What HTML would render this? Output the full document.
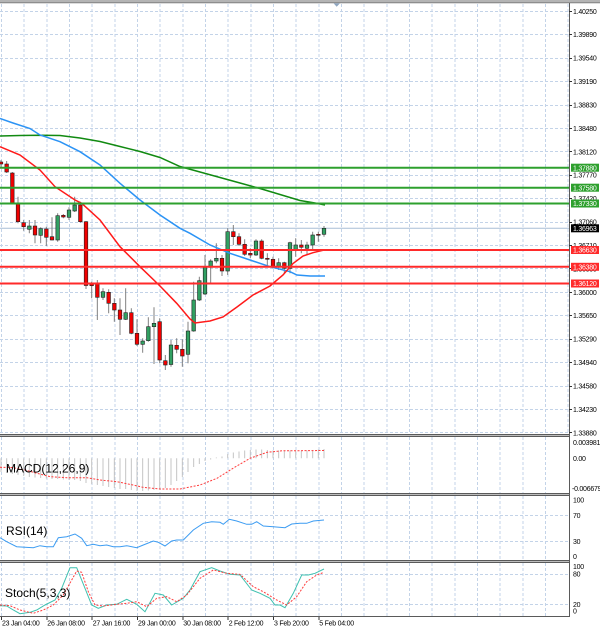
<!DOCTYPE html>
<html><head><meta charset="utf-8"><style>
html,body{margin:0;padding:0;background:#fff;}
svg{display:block;}
.ax{font-family:"Liberation Sans",sans-serif;font-size:7px;letter-spacing:-0.25px;fill:#000;}
.lb{font-family:"Liberation Sans",sans-serif;font-size:7px;letter-spacing:-0.25px;fill:#fff;}
.pl{font-family:"Liberation Sans",sans-serif;font-size:12px;fill:#000;}
</style></head><body>
<svg width="600" height="630" viewBox="0 0 600 630" xmlns="http://www.w3.org/2000/svg">
<rect width="600" height="630" fill="#fff"/>
<!-- top band -->
<rect x="0" y="0" width="600" height="2.6" fill="#b4b4b4"/>
<line x1="0" y1="2.8" x2="600" y2="2.8" stroke="#777" stroke-width="0.8"/>
<polygon points="333.5,3.3 340,3.3 336.7,6.8" fill="#8fa6c0"/>

<!-- vertical grid -->
<g stroke="#c3d3e8" stroke-width="1" stroke-dasharray="3,2" shape-rendering="crispEdges">
<path d="M1.5,4V434 M24.2,4V434 M46.8,4V434 M69.5,4V434 M92.2,4V434 M114.8,4V434 M137.5,4V434 M160.2,4V434 M182.8,4V434 M205.5,4V434 M228.2,4V434 M250.8,4V434 M273.5,4V434 M296.2,4V434 M318.8,4V434 M341.5,4V434 M364.2,4V434 M386.8,4V434 M409.5,4V434 M432.2,4V434 M454.8,4V434 M477.5,4V434 M500.2,4V434 M522.8,4V434 M545.5,4V434 M568.2,4V434"/>
<path d="M1.5,437V493 M24.2,437V493 M46.8,437V493 M69.5,437V493 M92.2,437V493 M114.8,437V493 M137.5,437V493 M160.2,437V493 M182.8,437V493 M205.5,437V493 M228.2,437V493 M250.8,437V493 M273.5,437V493 M296.2,437V493 M318.8,437V493 M341.5,437V493 M364.2,437V493 M386.8,437V493 M409.5,437V493 M432.2,437V493 M454.8,437V493 M477.5,437V493 M500.2,437V493 M522.8,437V493 M545.5,437V493"/>
<path d="M1.5,496V560 M24.2,496V560 M46.8,496V560 M69.5,496V560 M92.2,496V560 M114.8,496V560 M137.5,496V560 M160.2,496V560 M182.8,496V560 M205.5,496V560 M228.2,496V560 M250.8,496V560 M273.5,496V560 M296.2,496V560 M318.8,496V560 M341.5,496V560 M364.2,496V560 M386.8,496V560 M409.5,496V560 M432.2,496V560 M454.8,496V560 M477.5,496V560 M500.2,496V560 M522.8,496V560 M545.5,496V560"/>
<path d="M1.5,563V616 M24.2,563V616 M46.8,563V616 M69.5,563V616 M92.2,563V616 M114.8,563V616 M137.5,563V616 M160.2,563V616 M182.8,563V616 M205.5,563V616 M228.2,563V616 M250.8,563V616 M273.5,563V616 M296.2,563V616 M318.8,563V616 M341.5,563V616 M364.2,563V616 M386.8,563V616 M409.5,563V616 M432.2,563V616 M454.8,563V616 M477.5,563V616 M500.2,563V616 M522.8,563V616 M545.5,563V616"/>
</g>
<!-- horizontal grid main -->
<g stroke="#c3d3e8" stroke-width="1" stroke-dasharray="3,2" shape-rendering="crispEdges">
<path d="M0,11.5H569 M0,34.5H569 M0,58.5H569 M0,81.5H569 M0,105.5H569 M0,128.5H569 M0,151.5H569 M0,175.5H569 M0,198.5H569 M0,222.5H569 M0,245.5H569 M0,268.5H569 M0,292.5H569 M0,315.5H569 M0,339.5H569 M0,362.5H569 M0,386.5H569 M0,409.5H569 M0,432.5H569"/>
<path d="M0,515.5H569 M0,541.5H569 M0,574.5H569 M0,604.5H569"/>
</g>

<!-- current price line -->
<line x1="0" y1="228.3" x2="569" y2="228.3" stroke="#a9bdd6" stroke-width="1"/>

<!-- candles -->
<g stroke="#808080" stroke-width="1">
<path d="M1,160V167 M6.67,161V173 M12.33,172V204 M18,196.7V223.3 M23.67,220V230.7 M29.33,220V233.3 M35,220V243.3 M40.67,227.3V243.3 M46.33,226.7V246 M52,217.3V240.5 M57.67,213.3V241.7 M63.33,214V218.3 M69,207.3V220 M74.67,196.7V212 M80.33,201.7V222.7 M86,221V289 M91.67,281.7V298.3 M97.33,280V320 M103,288.3V300 M108.67,289.3V313.3 M114.33,298.3V321.7 M120,298.3V335 M125.67,288.3V320 M131.33,308.3V334.3 M137,319.3V346 M142.67,338.3V352.7 M148.33,317.3V341.7 M154,307.3V364 M159.67,318.3V363.3 M165.33,355V370 M171,340V366.7 M176.67,338.3V353.3 M182.33,339.3V366.7 M188,321.7V363.3 M193.67,281.7V331.7 M199.33,276.7V301 M205,255V295 M210.67,259.3V283.3 M216.33,243.3V263.3 M222,255V276 M227.67,228.3V275 M233.33,225V245 M239,233.3V246 M244.67,239.3V256 M250.33,248.3V258.3 M256,239.3V256 M261.67,239.3V259.3 M267.33,253.3V266.7 M273,256.7V268.3 M278.67,258.3V270 M284.33,261.7V273.3 M290,241.7V273.3 M295.67,238.3V256.7 M301.33,240V253.3 M307,241.7V254 M312.67,231.7V250 M318.33,231.7V241.7 M324,226V236.7"/>
</g>
<g stroke="#222" stroke-width="0.6">
<g fill="#f00000">
<rect x="-0.8" y="162" width="3.6" height="2"/>
<rect x="4.87" y="164" width="3.6" height="8"/>
<rect x="10.53" y="173" width="3.6" height="30"/>
<rect x="16.2" y="204" width="3.6" height="17.7"/>
<rect x="21.87" y="222.7" width="3.6" height="4"/>
<rect x="33.2" y="226" width="3.6" height="9"/>
<rect x="44.53" y="229" width="3.6" height="8.3"/>
<rect x="50.2" y="236.7" width="3.6" height="3.3"/>
<rect x="61.53" y="215.3" width="3.6" height="1.7"/>
<rect x="78.53" y="205" width="3.6" height="16.7"/>
<rect x="84.2" y="221.7" width="3.6" height="63.8"/>
<rect x="89.87" y="284" width="3.6" height="1.7"/>
<rect x="95.53" y="283.3" width="3.6" height="14"/>
<rect x="106.87" y="292.3" width="3.6" height="11"/>
<rect x="112.53" y="303.3" width="3.6" height="6.7"/>
<rect x="118.2" y="310" width="3.6" height="9.3"/>
<rect x="129.53" y="312.7" width="3.6" height="20.6"/>
<rect x="135.2" y="333.3" width="3.6" height="11"/>
<rect x="157.87" y="321.7" width="3.6" height="38.3"/>
<rect x="163.53" y="360.7" width="3.6" height="4.3"/>
<rect x="174.87" y="345.3" width="3.6" height="4"/>
<rect x="180.53" y="349.3" width="3.6" height="6.7"/>
<rect x="220.2" y="258.3" width="3.6" height="12.7"/>
<rect x="231.53" y="231.7" width="3.6" height="5"/>
<rect x="237.2" y="236.7" width="3.6" height="7.6"/>
<rect x="242.87" y="244.3" width="3.6" height="10"/>
<rect x="248.53" y="253.3" width="3.6" height="1.7"/>
<rect x="259.87" y="241" width="3.6" height="17.3"/>
<rect x="265.53" y="258.3" width="3.6" height="1"/>
<rect x="271.2" y="259.3" width="3.6" height="7.4"/>
<rect x="282.53" y="262.7" width="3.6" height="5.6"/>
<rect x="299.53" y="245" width="3.6" height="2.3"/>
<rect x="316.53" y="234.3" width="3.6" height="1"/>
</g>
<g fill="#31a062">
<rect x="27.53" y="226" width="3.6" height="3.3"/>
<rect x="38.87" y="228.7" width="3.6" height="6.6"/>
<rect x="55.87" y="215.7" width="3.6" height="24.3"/>
<rect x="67.2" y="210" width="3.6" height="7.3"/>
<rect x="72.87" y="205" width="3.6" height="6"/>
<rect x="101.2" y="291.7" width="3.6" height="5.6"/>
<rect x="123.87" y="312.7" width="3.6" height="6.6"/>
<rect x="140.87" y="341" width="3.6" height="3.3"/>
<rect x="146.53" y="326.7" width="3.6" height="14"/>
<rect x="152.2" y="323.3" width="3.6" height="3.4"/>
<rect x="169.2" y="345" width="3.6" height="19.5"/>
<rect x="186.2" y="331" width="3.6" height="23.3"/>
<rect x="191.87" y="300" width="3.6" height="31"/>
<rect x="197.53" y="280.7" width="3.6" height="19.3"/>
<rect x="203.2" y="267.3" width="3.6" height="26.7"/>
<rect x="208.87" y="261" width="3.6" height="6.3"/>
<rect x="214.53" y="258.3" width="3.6" height="2.7"/>
<rect x="225.87" y="231.7" width="3.6" height="39.3"/>
<rect x="254.2" y="241" width="3.6" height="14"/>
<rect x="276.87" y="262.7" width="3.6" height="4"/>
<rect x="288.2" y="242.7" width="3.6" height="25.6"/>
<rect x="293.87" y="245" width="3.6" height="5"/>
<rect x="305.2" y="245" width="3.6" height="3.3"/>
<rect x="310.87" y="235" width="3.6" height="10"/>
<rect x="322.2" y="228.3" width="3.6" height="6"/>
</g>
</g>

<!-- moving averages -->
<polyline fill="none" stroke="#118a11" stroke-width="1.5" points="0,136 20,135.5 40,135.2 60,135.5 80,138 100,141.5 120,146.5 140,151.5 160,157.5 180,166.5 200,172 220,177.5 240,183 260,188.5 280,194.5 300,200.5 315,203 325,205"/>
<polyline fill="none" stroke="#2b93f5" stroke-width="1.5" points="0,118.5 13,123 30,128.5 40,135 60,141.7 80,151.7 100,165 120,183.3 140,200 160,215 180,228.3 190,233.3 210,245 230,253.3 250,260 270,266.7 290,271.7 297,275 310,276 325,276"/>
<polyline fill="none" stroke="#ff1a1a" stroke-width="1.5" points="0,146.7 20,155 40,170 55,186.7 75,200 81.7,203.3 100,220 120,246.7 140,266.7 160,286 176.7,303.3 190,319 195,323 210,321 223,317 237,307 253,295 270,286 283,275 293,263.5 303,256 313,252.7 324,250"/>

<!-- horizontal level lines -->
<g stroke-width="2">
<line x1="0" y1="167.7" x2="569" y2="167.7" stroke="#2ea02e"/>
<line x1="0" y1="187.7" x2="569" y2="187.7" stroke="#2ea02e"/>
<line x1="0" y1="203.5" x2="569" y2="203.5" stroke="#2ea02e"/>
<line x1="0" y1="250" x2="569" y2="250" stroke="#ff2a2a"/>
<line x1="0" y1="266.8" x2="569" y2="266.8" stroke="#ff2a2a"/>
<line x1="0" y1="283.5" x2="569" y2="283.5" stroke="#ff2a2a"/>
</g>

<!-- MACD histogram -->
<g stroke="#c4c4c4" stroke-width="1">
<path d="M1,458.3V472 M6.67,458.3V473 M12.33,458.3V474 M18,458.3V475 M23.67,458.3V476 M29.33,458.3V477 M35,458.3V477.5 M40.67,458.3V478 M46.33,458.3V478.5 M52,458.3V479 M57.67,458.3V479 M63.33,458.3V479.5 M69,458.3V480 M74.67,458.3V480 M80.33,458.3V481 M86,458.3V483 M91.67,458.3V484 M97.33,458.3V485 M103,458.3V486 M108.67,458.3V487 M114.33,458.3V488 M120,458.3V489 M125.67,458.3V489 M131.33,458.3V490 M137,458.3V491 M142.67,458.3V491 M148.33,458.3V490.5 M154,458.3V490 M159.67,458.3V489 M165.33,458.3V488 M171,458.3V485 M176.67,458.3V481 M182.33,458.3V477 M188,458.3V472 M193.67,458.3V467 M199.33,458.3V464 M205,458.3V461 M210.67,458.3V459.5 M216.33,458.3V457.5 M222,458.3V456.5 M227.67,458.3V454 M233.33,458.3V452.5 M239,458.3V451.5 M244.67,458.3V450.5 M250.33,458.3V450 M256,458.3V449.5 M261.67,458.3V449.5 M267.33,458.3V450 M273,458.3V450.5 M278.67,458.3V450.5 M284.33,458.3V451 M290,458.3V450.5 M295.67,458.3V450.5 M301.33,458.3V450.5 M307,458.3V450.5 M312.67,458.3V450 M318.33,458.3V449.5 M324,458.3V449"/>
</g>
<polyline fill="none" stroke="#ff3b3b" stroke-width="1" stroke-dasharray="2,1.5" points="0,467.3 12,467.5 25,470 37,473.3 50,476.7 67,477.7 87,477.7 100,480 117,481.7 133,485 143,487.3 160,489 180,489 200,485 217,478.3 233,468.3 250,458.3 267,452.3 283,450.7 300,450.7 324,450.5"/>

<!-- RSI -->
<polyline fill="none" stroke="#3c9cf2" stroke-width="1" points="0,537.7 6.7,541.7 16.7,546.7 33.3,547.7 40,545.7 46.7,546.7 53.3,546.7 58.3,537.7 66.7,536.7 75,534 81.7,538.3 86.7,545.7 93.3,544.3 100,545.7 106.7,545 113.3,546.7 120,546.7 126.7,545.7 136.7,547.7 143.3,545 153.3,541 158.3,542.3 165,546 171.7,541 176.7,540 183.3,540 193.3,530 203.3,523.3 211.7,521.7 220,522.3 223.3,524.3 229.3,519.3 236.7,521 246.7,524.3 251.7,524.3 256.7,521.7 263.3,526 273.3,526.7 285,527.7 291.7,524 300,523.3 306.7,523.3 313.3,521 324,520"/>

<!-- Stoch -->
<polyline fill="none" stroke="#3fc1b0" stroke-width="1" points="0,605.7 6.7,606 13.3,610 20,613.7 30,612.3 36.7,610 45,605 55,600 61.7,588.3 70,567.7 76.7,567.7 85,588.3 91.7,605 98.3,608.3 106.7,605 116.7,604.3 126.7,599.3 136.7,604.3 145,611.7 155,593.3 163.3,595 171.7,605 183.3,598.3 190,590 200,571.7 211.7,567.7 220,571 230,574.3 240,575 251.7,590 260,593.3 270,598.3 275,605 280,605 285,607.7 293.3,593.3 301.7,575 308.3,575 315,573.3 324,569"/>
<polyline fill="none" stroke="#ff3b3b" stroke-width="1" stroke-dasharray="2,1.5" points="0,605 10,605.7 20,610 33.3,613.3 43.3,610 53.3,605 63.3,595 71.7,580 76.7,571 81.7,572.3 88.3,591.7 95,605 103.3,606 116.7,604.3 126.7,603.3 136.7,601.7 146.7,606.7 156.7,598.3 166.7,596.7 176.7,601.7 186.7,595 200,578.3 213.3,570 226.7,573.3 240,574.3 253.3,586.7 263.3,591.7 276.7,600 286.7,605 296.7,596.7 306.7,581.7 316.7,575 324,572.3"/>

<!-- panel labels -->
<text class="pl" x="6" y="472.5">MACD(12,26,9)</text>
<text class="pl" x="6" y="535">RSI(14)</text>
<text class="pl" x="5" y="597">Stoch(5,3,3)</text>

<!-- separators / borders -->
<g stroke="#5a5a5a" stroke-width="1" shape-rendering="crispEdges">
<line x1="0" y1="434.5" x2="569" y2="434.5"/>
<line x1="0" y1="436.5" x2="569" y2="436.5"/>
<line x1="0" y1="493.5" x2="569" y2="493.5"/>
<line x1="0" y1="495.5" x2="569" y2="495.5"/>
<line x1="0" y1="560.5" x2="569" y2="560.5"/>
<line x1="0" y1="562.5" x2="569" y2="562.5"/>
<line x1="0" y1="616.5" x2="569.5" y2="616.5"/>
<line x1="569.5" y1="3" x2="569.5" y2="617"/>
</g>
<line x1="0" y1="435.5" x2="569" y2="435.5" stroke="#bdbdbd" stroke-width="1" shape-rendering="crispEdges"/>
<line x1="0" y1="494.5" x2="569" y2="494.5" stroke="#bdbdbd" stroke-width="1" shape-rendering="crispEdges"/>
<line x1="0" y1="561.5" x2="569" y2="561.5" stroke="#bdbdbd" stroke-width="1" shape-rendering="crispEdges"/>

<!-- axis ticks -->
<g stroke="#333" stroke-width="1" shape-rendering="crispEdges">
<path d="M569,11.5h3 M569,34.5h3 M569,58.5h3 M569,81.5h3 M569,105.5h3 M569,128.5h3 M569,151.5h3 M569,175.5h3 M569,198.5h3 M569,222.5h3 M569,245.5h3 M569,268.5h3 M569,292.5h3 M569,315.5h3 M569,339.5h3 M569,362.5h3 M569,386.5h3 M569,409.5h3 M569,432.5h3"/>
<path d="M1.5,617v3 M46.8,617v3 M92.2,617v3 M137.5,617v3 M182.8,617v3 M228.2,617v3 M273.5,617v3 M318.8,617v3"/>
</g>

<!-- right axis labels -->
<g class="ax">
<text x="573" y="14">1.40250</text>
<text x="573" y="37.2">1.39890</text>
<text x="573" y="60.6">1.39540</text>
<text x="573" y="84">1.39190</text>
<text x="573" y="107.5">1.38830</text>
<text x="573" y="130.9">1.38480</text>
<text x="573" y="154.3">1.38120</text>
<text x="573" y="177.7">1.37770</text>
<text x="573" y="201.1">1.37420</text>
<text x="573" y="224.6">1.37060</text>
<text x="573" y="248">1.36710</text>
<text x="573" y="271.4">1.36350</text>
<text x="573" y="294.8">1.36000</text>
<text x="573" y="318.2">1.35650</text>
<text x="573" y="341.6">1.35290</text>
<text x="573" y="365.1">1.34940</text>
<text x="573" y="388.5">1.34580</text>
<text x="573" y="411.9">1.34230</text>
<text x="573" y="435.3">1.33880</text>
<text x="573" y="445.2">0.003981</text>
<text x="573" y="460.8">0.00</text>
<text x="572" y="490.8">-0.006679</text>
<text x="573" y="502.5">100</text>
<text x="573" y="518.2">70</text>
<text x="573" y="544.2">30</text>
<text x="573" y="559.2">0</text>
<text x="573" y="569.2">100</text>
<text x="573" y="576.3">80</text>
<text x="573" y="606.8">20</text>
<text x="573" y="613.5">0</text>
</g>

<!-- price label boxes -->
<rect x="571" y="163.7" width="28" height="8" fill="#2ea02e"/>
<rect x="571" y="183.7" width="28" height="8" fill="#2ea02e"/>
<rect x="571" y="199.5" width="28" height="8" fill="#2ea02e"/>
<rect x="571" y="224.3" width="28" height="8" fill="#000"/>
<rect x="571" y="246" width="28" height="8" fill="#ff2a2a"/>
<rect x="571" y="262.8" width="28" height="8" fill="#ff2a2a"/>
<rect x="571" y="279.5" width="28" height="8" fill="#ff2a2a"/>
<g class="lb">
<text x="573" y="170.3">1.37880</text>
<text x="573" y="190.3">1.37580</text>
<text x="573" y="206.1">1.37330</text>
<text x="573" y="230.9">1.36963</text>
<text x="573" y="252.6">1.36630</text>
<text x="573" y="269.4">1.36380</text>
<text x="573" y="286.1">1.36120</text>
</g>

<!-- x axis labels -->
<g class="ax">
<text x="2" y="625.5">23 Jan 04:00</text>
<text x="47.3" y="625.5">26 Jan 08:00</text>
<text x="92.7" y="625.5">27 Jan 16:00</text>
<text x="138" y="625.5">29 Jan 00:00</text>
<text x="183.3" y="625.5">30 Jan 08:00</text>
<text x="228.7" y="625.5">2 Feb 12:00</text>
<text x="274" y="625.5">3 Feb 20:00</text>
<text x="319.3" y="625.5">5 Feb 04:00</text>
</g>
</svg>
</body></html>
